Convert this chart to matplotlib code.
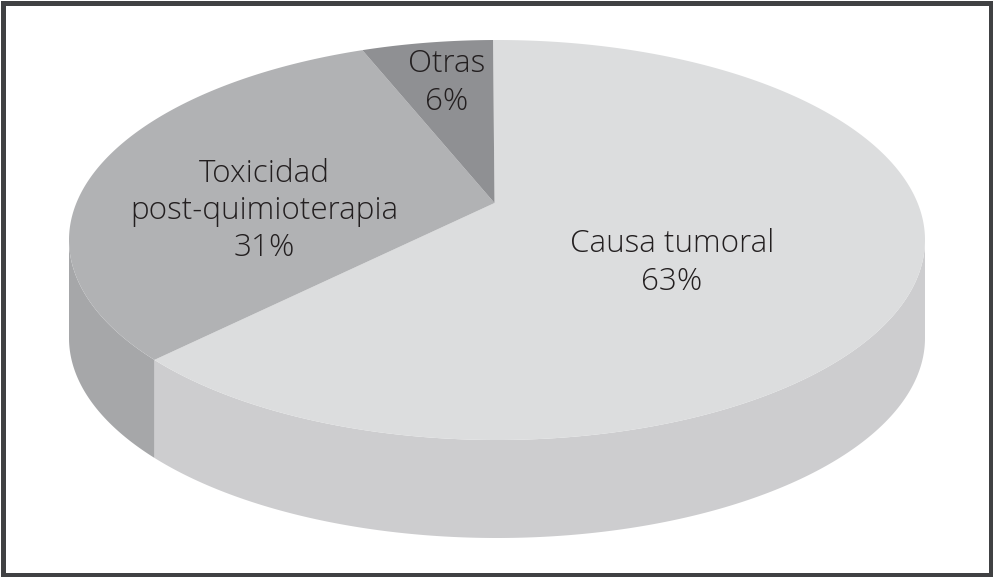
import matplotlib
matplotlib.use('Agg')
import matplotlib.pyplot as plt
from matplotlib.patches import Polygon, Rectangle
import numpy as np

plt.rcParams['font.family'] = ['Open Sans', 'DejaVu Sans']

# slices, clockwise from the top
labels = ['Causa tumoral', 'Toxicidad\npost-quimioterapia', 'Otras']
percents = ['63%', '31%', '6%']
values = [62.7, 31.36, 5.94]  # slice sizes, printed rounded
top_colors = ['#dcddde', '#b1b2b4', '#8f9093']
side_colors = ['#cdcdcf', '#a6a7a9', '#808184']
label_pos = [(672, 263), (264, 211), (447, 83)]

# everything is laid out in image pixels
W, H = 993, 577
cx, cy = 497, 240
rx, ry = 428, 200
depth = 98
tilt = 0.185  # apex sits above the centre of the ellipse (perspective)
start = np.radians(-0.64)


def rim(theta):
    # circle angle (clockwise from top) -> point on the tilted disc
    x, y = np.sin(theta), np.cos(theta)
    d = 1 + tilt * y
    return x * np.sqrt(1 - tilt ** 2) / d, (y + tilt) / d


fig = plt.figure(figsize=(W / 100, H / 100), dpi=100)
ax = fig.add_axes([0, 0, 1, 1])
ax.set_xlim(0, W)
ax.set_ylim(H, 0)
ax.axis('off')

edges = start + np.cumsum([0] + values) / sum(values) * 2 * np.pi
for i in range(len(values)):
    theta = np.linspace(edges[i], edges[i + 1], 400)
    x, y = rim(theta)
    px = cx + rx * x
    py = cy - ry * y

    # outer wall, only the part facing the viewer
    front = y <= 0
    if front.any():
        wall = np.r_[np.c_[px[front], py[front]],
                     np.c_[px[front], py[front] + depth][::-1]]
        ax.add_patch(Polygon(wall, closed=True, fc=side_colors[i], ec='none', zorder=2))

    # top face
    top = np.r_[[[494.5, cy - ry * tilt]], np.c_[px, py]]
    ax.add_patch(Polygon(top, closed=True, fc=top_colors[i], ec='none', zorder=3))

    ax.text(label_pos[i][0], label_pos[i][1], f'{labels[i]}\n{percents[i]}',
            ha='center', va='center', fontsize=22.6, color='#231f20', fontweight='light',
            linespacing=1.22, zorder=4)

# dark frame round the whole picture
ax.add_patch(Rectangle((2.5, 2.5), W - 5, H - 5, fc='none', ec='#404143', lw=3.6, zorder=5))

fig.savefig('out.png', dpi=100, facecolor='white')
